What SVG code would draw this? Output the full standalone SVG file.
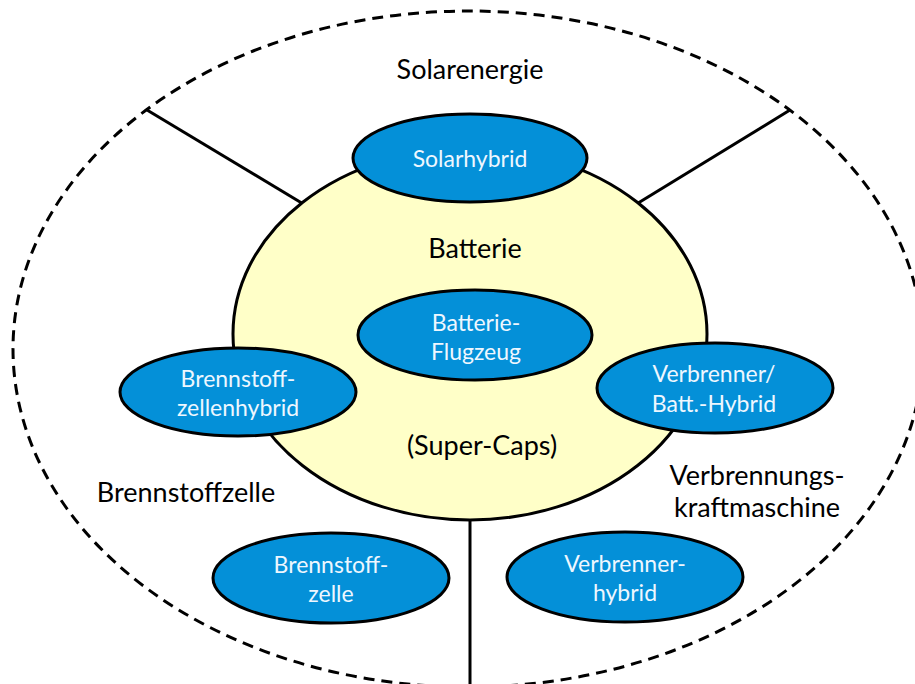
<svg xmlns="http://www.w3.org/2000/svg" width="915" height="684" viewBox="0 0 915 684">
<style>
.outer{fill:none;stroke:#000;stroke-width:3;stroke-dasharray:11 7}
.conn{stroke:#000;stroke-width:3;fill:none}
.core{fill:#FFFFC8;stroke:#000;stroke-width:3}
.node{fill:#0490D8;stroke:#000;stroke-width:3}
.nt{font-family:Lato,"Open Sans",sans-serif;font-size:23px;fill:#EEF7FF;text-anchor:middle}
.lbl{font-family:Lato,"Open Sans",sans-serif;font-size:27px;fill:#000;text-anchor:middle}
</style>
<rect width="915" height="684" fill="#fff"/>
<ellipse class="outer" cx="468" cy="349" rx="455" ry="338"/>
<g id="connectors">
<line class="conn" x1="147" y1="110" x2="310" y2="208"/>
<line class="conn" x1="790" y1="110" x2="630" y2="208"/>
<line class="conn" x1="470" y1="515" x2="470" y2="684"/>
</g>
<g id="batterie">
<ellipse class="core" cx="470" cy="334" rx="237" ry="186"/>
<text class="lbl" x="475" y="258" font-size="30">Batterie</text>
<text class="lbl" x="482" y="455" font-size="29">(Super-Caps)</text>
</g>
<g id="solarenergie"><text class="lbl" x="470" y="79">Solarenergie</text></g>
<g id="brennstoffzelle-label"><text class="lbl" x="186" y="502">Brennstoffzelle</text></g>
<g id="verbrennungskraftmaschine-label"><text class="lbl" x="757" y="485">Verbrennungs-</text><text class="lbl" x="757" y="517">kraftmaschine</text></g>
<g id="solarhybrid">
<ellipse class="node" cx="470" cy="158" rx="117" ry="44"/>
<text class="nt" x="470" y="167">Solarhybrid</text>
</g>
<g id="batterie-flugzeug">
<ellipse class="node" cx="475" cy="335" rx="117" ry="45"/>
<text class="nt" x="476" y="331">Batterie-</text>
<text class="nt" x="476" y="360">Flugzeug</text>
</g>
<g id="brennstoffzellenhybrid">
<ellipse class="node" cx="238" cy="392" rx="118" ry="44"/>
<text class="nt" x="238" y="387">Brennstoff-</text>
<text class="nt" x="238" y="416">zellenhybrid</text>
</g>
<g id="verbrenner-batt-hybrid">
<ellipse class="node" cx="715" cy="388" rx="118" ry="45"/>
<text class="nt" x="714" y="382">Verbrenner/</text>
<text class="nt" x="714" y="412">Batt.-Hybrid</text>
</g>
<g id="brennstoffzelle">
<ellipse class="node" cx="331" cy="578" rx="118" ry="45"/>
<text class="nt" x="331" y="573">Brennstoff-</text>
<text class="nt" x="331" y="602">zelle</text>
</g>
<g id="verbrennerhybrid">
<ellipse class="node" cx="625" cy="577" rx="118" ry="45"/>
<text class="nt" x="625" y="572">Verbrenner-</text>
<text class="nt" x="625" y="601">hybrid</text>
</g>
</svg>
